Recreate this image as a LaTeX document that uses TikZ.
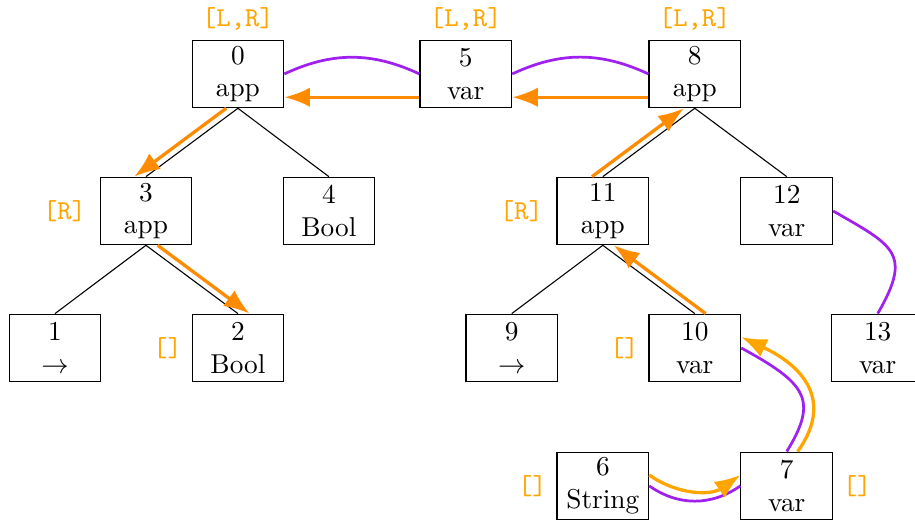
\documentclass[tikz,border=0pt]{standalone}
\usepackage{tikz}
\usetikzlibrary{positioning,arrows.meta}
\definecolor{TagOrange}{HTML}{FFA500}
\definecolor{FlowOrange}{HTML}{FF8C00}
\definecolor{LinkPurple}{HTML}{A020F0}

\begin{document}
\begin{tikzpicture}[
  box/.style={draw, align=center, minimum width=1.18cm, minimum height=0.87cm, inner sep=1pt},
  tag/.style={font=\ttfamily, text=TagOrange},
  tree/.style={color=black, line width=0.4pt},
  flow/.style={color=FlowOrange, line width=1.2pt, -{Latex[length=3.3mm,width=2.5mm]}},
  flowlight/.style={flow, color=TagOrange},
  link/.style={color=LinkPurple, line width=1pt}
]
  \useasboundingbox (0,0) rectangle (11.78,-6.72);

  % Left tree
  \node[box, label={[tag]above:{[L,R]}}] (n0) at (3.063,-0.952) {0\\app};
  \node[box, label={[tag,label distance=0.5mm]left:{[R]}}] (n3) at (1.879,-2.716) {3\\app};
  \node[box] (n4) at (4.234,-2.716) {4\\Bool};
  \node[box] (n1) at (0.708,-4.479) {1\\$\rightarrow$};
  \node[box, label={[tag]left:{[]}}] (n2) at (3.063,-4.479) {2\\Bool};

  % Middle
  \node[box, label={[tag]above:{[L,R]}}] (n5) at (5.997,-0.952) {5\\var};

  % Right tree
  \node[box, label={[tag]above:{[L,R]}}] (n8) at (8.945,-0.952) {8\\app};
  \node[box, label={[tag,label distance=0.5mm]left:{[R]}}] (n11) at (7.761,-2.716) {11\\app};
  \node[box] (n12) at (10.129,-2.716) {12\\var};
  \node[box] (n9) at (6.589,-4.479) {9\\$\rightarrow$};
  \node[box, label={[tag]left:{[]}}] (n10) at (8.945,-4.479) {10\\var};
  \node[box] (n13) at (11.300,-4.479) {13\\var};
  \node[box, label={[tag]left:{[]}}] (n6) at (7.761,-6.255) {6\\String};
  \node[box, label={[tag]right:{[]}}] (n7) at (10.129,-6.255) {7\\var};

  % Tree edges
  \draw[tree] (n0.south) -- (n3.north);
  \draw[tree] (n0.south) -- (n4.north);
  \draw[tree] (n3.south) -- (n1.north);
  \draw[tree] (n3.south) -- (n2.north);
  \draw[tree] (n8.south) -- (n11.north);
  \draw[tree] (n8.south) -- (n12.north);
  \draw[tree] (n11.south) -- (n9.north);
  \draw[tree] (n11.south) -- (n10.north);

  % Purple links
  \draw[link] (n0.east) to[bend left=25] (n5.west);
  \draw[link] (n5.east) to[bend left=25] (n8.west);
  \draw[link] (n12.east) to[out=-30, in=60, looseness=1.6] (n13.north);
  \draw[link] (n10.east) .. controls +(0.84,-0.46) and +(0.41,0.67) .. (n7.north);
  \draw[link] (n6.east) to[bend right=35] (n7.west);

  % Orange flow
  \draw[flow] ([yshift=-0.3cm]n5.west) -- ([yshift=-0.3cm]n0.east);
  \draw[flow] ([yshift=-0.3cm]n8.west) -- ([yshift=-0.3cm]n5.east);
  \draw[flow] ([xshift=-0.15cm]n0.south) -- ([xshift=-0.15cm]n3.north);
  \draw[flow] ([xshift=0.15cm]n3.south) -- ([xshift=0.15cm]n2.north);
  \draw[flow] ([xshift=-0.14cm]n11.north) -- ([xshift=-0.14cm]n8.south);
  \draw[flow] ([xshift=0.14cm]n10.north) -- ([xshift=0.14cm]n11.south);
  \draw[flowlight] ([yshift=0.14cm]n6.east) to[bend right=35] ([yshift=0.14cm]n7.west);
  \draw[flowlight] ([xshift=0.14cm]n7.north) .. controls +(0.48,0.67) and +(0.77,-0.36) .. ([yshift=0.14cm]n10.east);
\end{tikzpicture}
\end{document}
